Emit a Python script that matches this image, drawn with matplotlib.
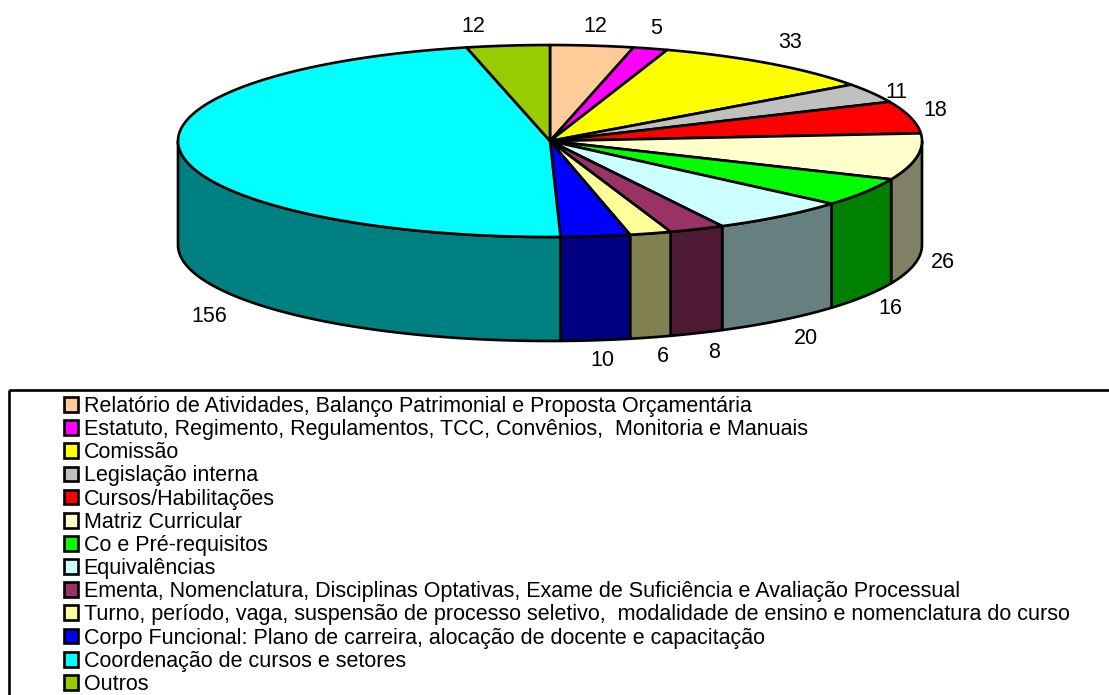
import matplotlib
matplotlib.use('Agg')
import matplotlib.pyplot as plt
from matplotlib.patches import Patch, Rectangle
import numpy as np

plt.rcParams['font.family'] = ['Liberation Sans', 'DejaVu Sans']

names = ['Relatório de Atividades, Balanço Patrimonial e Proposta Orçamentária',
         'Estatuto, Regimento, Regulamentos, TCC, Convênios,  Monitoria e Manuais',
         'Comissão',
         'Legislação interna',
         'Cursos/Habilitações',
         'Matriz Curricular',
         'Co e Pré-requisitos',
         'Equivalências',
         'Ementa, Nomenclatura, Disciplinas Optativas, Exame de Suficiência e Avaliação Processual',
         'Turno, período, vaga, suspensão de processo seletivo,  modalidade de ensino e nomenclatura do curso',
         'Corpo Funcional: Plano de carreira, alocação de docente e capacitação',
         'Coordenação de cursos e setores',
         'Outros']
values = [12, 5, 33, 11, 18, 26, 16, 20, 8, 6, 10, 156, 12]
top_colors = ['#FFCC99', '#FF00FF', '#FFFF00', '#C0C0C0', '#FF0000', '#FFFFCC', '#00FF00',
              '#CCFFFF', '#993366', '#FFFF99', '#0000FF', '#00FFFF', '#99CC00']
side_colors = ['#806633', '#800080', '#808000', '#606060', '#800000', '#808066', '#008000',
               '#668080', '#4D1933', '#808050', '#000080', '#008080', '#4D6600']

# label centres, pixels
label_x = [595, 656, 790, 896, 935, 943, 890, 806, 714, 663, 602, 209, 473]
label_y = [26, 28, 42, 92, 111, 262, 309, 339, 353, 356, 361, 316, 26]

cx, cy = 550, 141
a, b = 372, 96
depth = 104

fig = plt.figure(figsize=(11.09, 6.95), dpi=100)
ax = fig.add_axes([0, 0, 1, 1])
ax.set_xlim(0, 1109)
ax.set_ylim(695, 0)
ax.axis('off')


def ell(t):
    return cx + a * np.sin(t), cy - b * np.cos(t)


edges = np.radians(np.cumsum([0] + values) / sum(values) * 360)

# sides first, only the front half shows
for i in range(len(values)):
    t0 = max(edges[i], np.pi / 2)
    t1 = min(edges[i + 1], 3 * np.pi / 2)
    if t1 <= t0:
        continue
    t = np.linspace(t0, t1, 80)
    x, y = ell(t)
    ax.fill(np.r_[x, x[::-1]], np.r_[y, y[::-1] + depth], facecolor=side_colors[i],
            edgecolor='k', lw=1.9, joinstyle='round')

# top slices
for i in range(len(values)):
    t = np.linspace(edges[i], edges[i + 1], 120)
    x, y = ell(t)
    ax.fill(np.r_[cx, x], np.r_[cy, y], facecolor=top_colors[i], edgecolor='k', lw=1.9,
            joinstyle='round')

for i in range(len(values)):
    ax.text(label_x[i], label_y[i], str(values[i]), ha='center', va='center', fontsize=15.5,
            color='k')

# legend box runs off the page on the right and bottom
ax.add_patch(Rectangle((9, 390), 1200, 400, facecolor='none', edgecolor='k', lw=1.9))
handles = [Patch(facecolor=c, edgecolor='k', lw=1.9) for c in top_colors]
leg = ax.legend(handles, names, loc='upper left', bbox_to_anchor=(63.5 / 1109, 1 - 396 / 695),
                frameon=False, fontsize=15.5, borderpad=0, borderaxespad=0,
                handlelength=0.68, handleheight=0.68, handletextpad=0.25, labelspacing=0.1)

fig.savefig('out.png', dpi=100)
